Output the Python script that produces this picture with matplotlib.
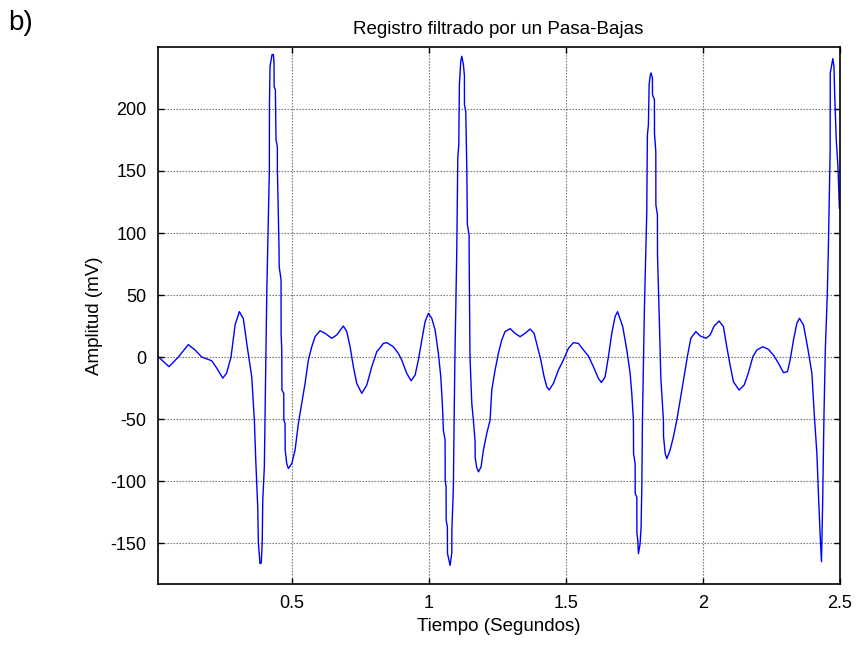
import matplotlib
matplotlib.use("Agg")
import matplotlib.pyplot as plt

plt.rcParams["font.family"] = ["Liberation Sans", "DejaVu Sans"]
plt.rcParams["axes.unicode_minus"] = False

# filtered ECG trace: time (s) and amplitude (mV)
tiempo = [
    0.0115, 0.0506, 0.0846, 0.121, 0.1456, 0.170, 0.2066, 0.225, 0.247, 0.261,
    0.277, 0.292, 0.3075, 0.322, 0.338, 0.3528, 0.3623, 0.3674, 0.3747, 0.377,
    0.383, 0.3875, 0.391, 0.393, 0.3988, 0.4014, 0.4076, 0.4171, 0.4175, 0.4196,
    0.4269, 0.4317, 0.4342, 0.4345, 0.439, 0.4415, 0.4463, 0.4465, 0.4525, 0.4530,
    0.4598, 0.4600, 0.4624, 0.4630, 0.4697, 0.4700, 0.4744, 0.4750, 0.4806, 0.4866,
    0.4989, 0.511, 0.523, 0.5354, 0.5475, 0.5596, 0.572, 0.584, 0.6023, 0.6206,
    0.645, 0.6633, 0.6874, 0.6998, 0.712, 0.724, 0.7364, 0.7547, 0.773, 0.7912,
    0.8095, 0.8215, 0.8336, 0.846, 0.870, 0.8884, 0.9006, 0.919, 0.9348, 0.9494,
    0.9615, 0.974, 0.986, 0.998, 1.0104, 1.0225, 1.0345, 1.0433, 1.049, 1.0528,
    1.059, 1.0595, 1.0627, 1.0630, 1.0674, 1.0678, 1.0773, 1.0835, 1.0838, 1.0894,
    1.092, 1.095, 1.1017, 1.1054, 1.109, 1.1113, 1.1164, 1.12, 1.126, 1.1296,
    1.1298, 1.1346, 1.1383, 1.1405, 1.1467, 1.1470, 1.1480, 1.150, 1.1566, 1.1624,
    1.1686, 1.1690, 1.174, 1.1807, 1.1906, 1.199, 1.2113, 1.2234, 1.2296, 1.2417,
    1.2537, 1.266, 1.278, 1.2965, 1.3147, 1.333, 1.3513, 1.3696, 1.3842, 1.3964,
    1.4087, 1.4207, 1.4306, 1.439, 1.4547, 1.473, 1.4912, 1.5095, 1.5278, 1.546,
    1.5643, 1.5826, 1.6008, 1.619, 1.630, 1.6436, 1.6556, 1.668, 1.680, 1.689,
    1.708, 1.7228, 1.735, 1.741, 1.747, 1.7475, 1.7532, 1.7535, 1.7594, 1.7598,
    1.763, 1.7653, 1.7715, 1.775, 1.7777, 1.780, 1.787, 1.792, 1.7958, 1.798,
    1.8017, 1.8044, 1.809, 1.8117, 1.8164, 1.8166, 1.8237, 1.8240, 1.8288, 1.8290,
    1.8347, 1.8350, 1.842, 1.847, 1.8566, 1.857, 1.863, 1.869, 1.881, 1.893,
    1.9055, 1.920, 1.932, 1.944, 1.9567, 1.975, 1.9907, 2.0126, 2.0272, 2.0418,
    2.060, 2.0758, 2.088, 2.100, 2.1124, 2.133, 2.1514, 2.1664, 2.1833, 2.198,
    2.2197, 2.240, 2.2585, 2.277, 2.295, 2.3097, 2.3195, 2.3317, 2.344, 2.3536,
    2.3683, 2.383, 2.399, 2.4074, 2.4172, 2.4233, 2.430, 2.434, 2.4382, 2.443,
    2.448, 2.4553, 2.459, 2.4657, 2.466, 2.4755, 2.4797, 2.482, 2.488, 2.494,
    2.4995,
]
amplitud = [
    0.2, -7.8, 0.0, 10.0, 5.7, 0.0, -3.0, -9.0, -17.0, -13.0,
    0.0, 26.0, 36.6, 31.0, 5.7, -16.0, -51.0, -83.0, -121.0, -150.0,
    -166.6, -166.0, -150.0, -115.5, -88.6, -48.0, 51.0, 151.0, 204.8, 234.4,
    243.9, 243.9, 237.0, 218.0, 215.6, 175.0, 169.8, 151.0, 86.4, 72.9,
    62.2, 19.1, 5.7, -26.6, -29.3, -50.9, -53.6, -75.1, -85.9, -89.9,
    -85.9, -75.1, -53.6, -37.4, -21.3, -2.4, 8.3, 16.4, 21.2, 19.1,
    15.1, 17.8, 25.0, 20.5, 8.3, -7.8, -21.3, -29.3, -22.6, -7.8,
    4.3, 7.5, 11.0, 11.6, 8.3, 2.9, -2.4, -13.2, -19.1, -14.6,
    -2.4, 13.7, 28.5, 35.2, 31.2, 21.8, 3.0, -15.9, -37.4, -59.0,
    -67.0, -99.3, -104.7, -131.6, -137.0, -158.3, -168.0, -158.0, -139.7, -104.7,
    -50.9, 0.3, 85.0, 160.5, 171.0, 219.7, 238.5, 242.5, 235.8, 227.0,
    203.5, 198.0, 152.4, 106.6, 98.5, 82.4, 51.4, 0.3, -37.4, -51.0,
    -68.0, -81.0, -88.6, -92.6, -88.6, -75.0, -61.6, -50.9, -26.6, -10.5,
    3.0, 13.7, 20.5, 22.9, 19.1, 16.4, 19.1, 22.6, 19.1, 8.3,
    -2.4, -15.9, -24.0, -26.6, -21.3, -10.5, -2.4, 7.0, 11.6, 11.0,
    5.7, 0.8, -7.8, -17.2, -20.5, -16.0, 0.3, 19.1, 32.6, 36.6,
    24.5, 5.7, -13.2, -29.3, -51.0, -77.8, -86.0, -110.0, -113.0, -142.0,
    -147.8, -158.5, -150.5, -137.0, -104.7, -50.9, 37.9, 85.0, 117.0, 179.0,
    187.0, 219.7, 227.7, 229.0, 225.0, 211.6, 207.5, 180.0, 165.8, 122.7,
    114.7, 82.4, 27.0, -15.9, -51.0, -64.0, -77.8, -81.9, -75.1, -64.4,
    -50.9, -32.0, -15.9, 0.3, 15.1, 20.5, 17.0, 15.1, 17.8, 25.0,
    29.0, 24.5, 8.3, -6.4, -20.0, -26.6, -22.6, -13.2, 0.3, 5.7,
    8.3, 6.2, 1.6, -5.1, -12.6, -11.8, -2.4, 13.7, 27.2, 31.2,
    25.8, 8.3, -13.2, -45.5, -77.8, -112.8, -147.8, -165.0, -118.0, -48.2,
    5.7, 51.4, 86.4, 167.0, 229.0, 240.6, 234.0, 213.0, 175.0, 153.7,
    120.0,
]

xticks = [0.5, 1, 1.5, 2, 2.5]
xticklabels = ["0.5", "1", "1.5", "2", "2.5"]
yticks = [-150, -100, -50, 0, 50, 100, 150, 200]

fig = plt.figure(figsize=(8.58, 6.47), dpi=100)
ax = fig.add_axes([0.1836, 0.0974, 0.7949, 0.830])

ax.plot(tiempo, amplitud, color="#0000ff", linewidth=1.0)

ax.set_xlim(0.0086, 2.5)
ax.set_ylim(-183, 250)
ax.set_xticks(xticks)
ax.set_xticklabels(xticklabels)
ax.set_yticks(yticks)

# MATLAB-like look: inward ticks on every side, dotted grid
ax.tick_params(direction="in", length=4, width=1.0, labelsize=13,
               top=True, right=True, pad=8, colors="black")
ax.grid(True, color="0.4", linestyle=(0, (1.2, 1.5)), linewidth=0.8)
for s in ax.spines.values():
    s.set_linewidth(1.2)

ax.set_xlabel("Tiempo (Segundos)", fontsize=13.5, labelpad=4)
ax.set_ylabel("Amplitud (mV)", fontsize=13.5, labelpad=5)
ax.set_title("Registro filtrado por un Pasa-Bajas", fontsize=13.5, pad=9)

fig.text(0.009, 0.985, "b)", fontsize=20, ha="left", va="top")

fig.savefig("out.png", dpi=100)
